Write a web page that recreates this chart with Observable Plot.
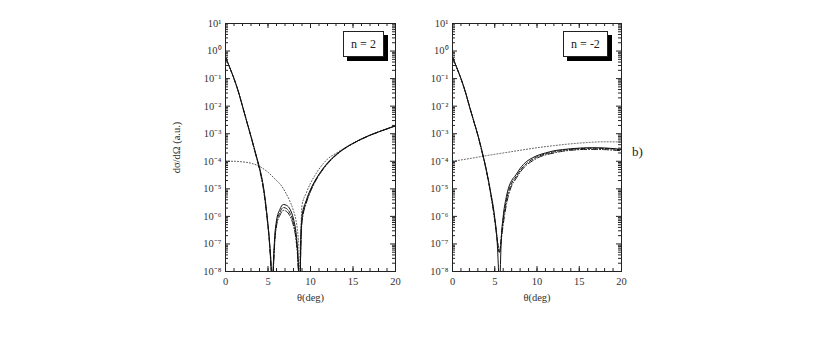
<!DOCTYPE html>
<html><head><meta charset="utf-8">
<script src="https://cdn.jsdelivr.net/npm/d3@7"></script>
<script src="https://cdn.jsdelivr.net/npm/@observablehq/plot@0.6"></script>
<style>
body{margin:0;background:#fff;width:830px;height:361px;position:relative;overflow:hidden;font-family:"Liberation Serif","DejaVu Serif",serif}
.panel{position:absolute;top:0}
.legend{position:absolute;border:1px solid #222;background:#fff;box-shadow:4px 4px 0 #000;font-size:12px;text-align:center;line-height:24px;color:#222}
.tag{position:absolute;font-size:13px;color:#222}
</style>
</head><body>
<div id="left" class="panel" style="left:170px"></div>
<div id="right" class="panel" style="left:412px"></div>
<div class="legend" style="left:343px;top:31px;width:39px;height:24px">n = 2</div>
<div class="legend" style="left:563px;top:31px;width:43px;height:24px">n = -2</div>
<div class="tag" style="left:632px;top:144px">b)</div>
<script>
// ---------- data ----------
// Panel a: n = 2
const thA = [0,0.5,1,1.5,2,2.5,3,3.5,3.8,4,4.5,4.9,5.2,5.4,5.5,5.6,5.8,6,6.4,6.8,7.2,7.6,8,8.3,8.5,8.65,8.75,8.85,9,9.5,10,10.5,11,11.5,12,12.5,13,14,15,16,17,18,19,20];
const solidA = [6e-1,2.5e-1,1e-1,3.5e-2,1e-2,2.8e-3,8e-4,2.2e-4,1e-4,6e-5,1e-5,1e-6,1e-7,1e-8,1e-9,1e-8,2e-7,7e-7,1.8e-6,2.7e-6,2.5e-6,1.8e-6,8e-7,2.5e-7,5e-8,5e-9,1e-9,1e-7,1e-6,3.8e-6,9.5e-6,1.9e-5,3.4e-5,5.6e-5,8.7e-5,1.26e-4,1.74e-4,2.95e-4,4.5e-4,6.5e-4,8.9e-4,1.17e-3,1.51e-3,1.95e-3];
const dashA  = [6e-1,2.5e-1,1e-1,3.5e-2,1e-2,2.8e-3,8e-4,2.1e-4,9.5e-5,5.5e-5,9e-6,9e-7,9e-8,8e-9,1e-9,8e-9,1.5e-7,5.5e-7,1.4e-6,2.1e-6,1.9e-6,1.3e-6,6e-7,1.8e-7,4e-8,4e-9,1e-9,8e-8,8e-7,3.4e-6,8.7e-6,1.8e-5,3.25e-5,5.4e-5,8.4e-5,1.22e-4,1.7e-4,2.9e-4,4.45e-4,6.4e-4,8.8e-4,1.16e-3,1.5e-3,1.93e-3];
const dotdashA=[6e-1,2.5e-1,1e-1,3.4e-2,9.8e-3,2.7e-3,7.6e-4,2e-4,9e-5,5e-5,8e-6,8e-7,8e-8,6e-9,1e-9,6e-9,1.2e-7,4.5e-7,1.1e-6,1.65e-6,1.5e-6,1e-6,4.5e-7,1.4e-7,3e-8,3e-9,1e-9,6e-8,6e-7,3e-6,8e-6,1.7e-5,3.1e-5,5.2e-5,8.1e-5,1.18e-4,1.65e-4,2.85e-4,4.4e-4,6.3e-4,8.7e-4,1.15e-3,1.49e-3,1.92e-3];
const thDotA = [0,1,2,3,4,5,6,6.5,7,7.5,8,8.3,8.5,8.65,8.75,8.85,9,9.5,10,10.5,11,11.5,12,13,14,15,16,17,18,19,20];
const dotA   = [1e-4,1e-4,9.5e-5,8.5e-5,6.5e-5,4e-5,2e-5,1.4e-5,8e-6,4e-6,1.6e-6,7e-7,2.5e-7,5e-8,1e-9,1e-7,2.5e-6,7e-6,1.6e-5,3e-5,5.2e-5,8.2e-5,1.2e-4,1.95e-4,3e-4,4.5e-4,6.5e-4,8.9e-4,1.17e-3,1.51e-3,1.95e-3];

// Panel b: n = -2
const thB = [0,0.5,1,1.5,2,2.5,3,3.5,4,4.5,5,5.3,5.45,5.55,5.65,5.75,6,6.3,6.6,7,7.5,8,8.8,9.5,10,11,12,13,14,15,16,17,18,19,20];
const solidB = [6e-1,2.5e-1,1e-1,3.5e-2,1e-2,3e-3,9e-4,2.3e-4,5e-5,8e-6,9e-7,1e-7,1e-8,1e-9,1e-8,1e-7,1e-6,4e-6,1e-5,2e-5,3.2e-5,5.5e-5,1e-4,1.35e-4,1.6e-4,2e-4,2.4e-4,2.65e-4,2.85e-4,3e-4,3.1e-4,3.1e-4,3.05e-4,2.9e-4,2.7e-4];
const dashB  = [6e-1,2.5e-1,1e-1,3.5e-2,1e-2,3e-3,9e-4,2.2e-4,4.8e-5,7.5e-6,8e-7,1.5e-7,7e-8,5e-8,7e-8,1.5e-7,8e-7,3e-6,7.5e-6,1.6e-5,2.7e-5,4.6e-5,8.5e-5,1.2e-4,1.45e-4,1.85e-4,2.2e-4,2.5e-4,2.7e-4,2.85e-4,2.95e-4,2.95e-4,2.9e-4,2.8e-4,2.6e-4];
const dotdashB=[6e-1,2.5e-1,1e-1,3.4e-2,9.8e-3,2.9e-3,8.6e-4,2.1e-4,4.5e-5,7e-6,7e-7,1.3e-7,6e-8,5e-8,6e-8,1.2e-7,5e-7,2e-6,5.5e-6,1.3e-5,2.3e-5,4e-5,7.5e-5,1.05e-4,1.3e-4,1.7e-4,2e-4,2.3e-4,2.5e-4,2.65e-4,2.7e-4,2.7e-4,2.65e-4,2.55e-4,2.4e-4];
const thDotB = [0,2,4,6,8,10,12,14,16,18,20];
const dotB   = [1e-4,1.25e-4,1.6e-4,2e-4,2.5e-4,3.1e-4,3.7e-4,4.3e-4,4.8e-4,5.1e-4,5e-4];

// ticks
const xMajor = [0,5,10,15,20];
const xMinor = d3.range(0,21,1);
const yExp = [-8,-7,-6,-5,-4,-3,-2,-1,0,1];
const yMajor = yExp.map(e => Math.pow(10,e));
const yMinor = yExp.slice(0,-1).flatMap(e => [2,3,4,5,6,7,8,9].map(k => k*Math.pow(10,e)));
const sup = {"-":"⁻","0":"⁰","1":"¹","2":"²","3":"³","4":"⁴","5":"⁵","6":"⁶","7":"⁷","8":"⁸","9":"⁹"};
const fmtY = v => "10" + String(Math.round(Math.log10(v))).split("").map(c => sup[c]).join("");

function series(th, ys){ return th.map((t,i)=>({t, v: ys[i]})); }

function panel(el, opts, sets){
  const W = opts.width, H = 311, mL = opts.mL, mR = 10, mT = 23, mB = 40;
  const iw = W - mL - mR, ih = H - mT - mB;
  const lineStyle = {x:"t", y:"v", stroke:"#111", strokeWidth:1, curve:"monotone-x"};
  const p = Plot.plot({
    width: W, height: H, marginLeft: mL, marginRight: mR, marginTop: mT, marginBottom: mB,
    style: {fontFamily: '"Liberation Serif", serif', fontSize: "10.5px", color: "#333", background: "#fff"},
    x: {domain: [0,20]},
    y: {type: "log", domain: [1e-8, 10]},
    marks: [
      Plot.line(sets.dot, {...lineStyle, stroke:"#555", strokeDasharray:"1,2", clip:true}),
      Plot.line(sets.dotdash, {...lineStyle, strokeDasharray:"6,2,1,2", clip:true}),
      Plot.line(sets.dash, {...lineStyle, strokeDasharray:"4,2", clip:true}),
      Plot.line(sets.solid, {...lineStyle, clip:true}),
      // inward ticks
      Plot.tickY(yMajor, {y: d=>d, insetRight: iw-5, stroke:"#222"}),
      Plot.tickY(yMajor, {y: d=>d, insetLeft: iw-5, stroke:"#222"}),
      Plot.tickY(yMinor, {y: d=>d, insetRight: iw-3, stroke:"#222"}),
      Plot.tickY(yMinor, {y: d=>d, insetLeft: iw-3, stroke:"#222"}),
      Plot.tickX(xMajor, {x: d=>d, insetTop: ih-5, stroke:"#222"}),
      Plot.tickX(xMajor, {x: d=>d, insetBottom: ih-5, stroke:"#222"}),
      Plot.tickX(xMinor, {x: d=>d, insetTop: ih-3, stroke:"#222"}),
      Plot.tickX(xMinor, {x: d=>d, insetBottom: ih-3, stroke:"#222"}),
      Plot.axisY(yMajor, {tickSize: 0, tickPadding: 4, tickFormat: fmtY, label: opts.ylabel, labelAnchor: "center", labelOffset: 53, labelArrow: "none", fontSize: 10.5}),
      Plot.axisX(xMajor, {tickSize: 0, tickPadding: 6, tickFormat: d=>String(d), label: "θ(deg)", labelAnchor: "center", labelOffset: 29, labelArrow: "none", fontSize: 10.5}),
      Plot.frame({stroke:"#222", strokeWidth: 1})
    ]
  });
  el.appendChild(p);
}

panel(document.getElementById("left"), {width: 235, mL: 55, ylabel: "dσ/dΩ (a.u.)"},
  {solid: series(thA, solidA), dash: series(thA, dashA), dotdash: series(thA, dotdashA), dot: series(thDotA, dotA)});
panel(document.getElementById("right"), {width: 219, mL: 40, ylabel: null},
  {solid: series(thB, solidB), dash: series(thB, dashB), dotdash: series(thB, dotdashB), dot: series(thDotB, dotB)});
</script>
</body></html>
